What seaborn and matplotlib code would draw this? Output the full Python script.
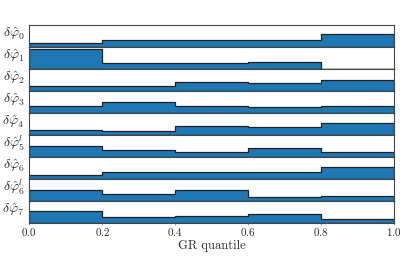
import matplotlib
matplotlib.use('Agg')
import matplotlib.pyplot as plt
import numpy as np
import pandas as pd
import seaborn as sns

# 分位数区间边界
bin_edges = [0.0, 0.2, 0.4, 0.6, 0.8, 1.0]
bin_centers = [0.1, 0.3, 0.5, 0.7, 0.9]

# 每个参数在各 GR 分位区间内的比例
row_labels = [r'$\delta\hat{\varphi}_0$', r'$\delta\hat{\varphi}_1$', r'$\delta\hat{\varphi}_2$',
              r'$\delta\hat{\varphi}_3$', r'$\delta\hat{\varphi}_4$', r'$\delta\hat{\varphi}^l_5$',
              r'$\delta\hat{\varphi}_6$', r'$\delta\hat{\varphi}^l_6$', r'$\delta\hat{\varphi}_7$']
phi0 = [0.10, 0.19, 0.19, 0.19, 0.33]
phi1 = [0.52, 0.15, 0.15, 0.18, 0.0]
phi2 = [0.13, 0.13, 0.24, 0.21, 0.29]
phi3 = [0.19, 0.29, 0.19, 0.15, 0.19]
phi4 = [0.14, 0.10, 0.24, 0.20, 0.32]
phi5l = [0.29, 0.19, 0.14, 0.24, 0.14]
phi6 = [0.10, 0.19, 0.19, 0.19, 0.32]
phi6l = [0.29, 0.18, 0.29, 0.10, 0.14]
phi7 = [0.32, 0.15, 0.19, 0.24, 0.10]
rows = [phi0, phi1, phi2, phi3, phi4, phi5l, phi6, phi6l, phi7]

sns.set_style('ticks')
plt.rcParams['font.family'] = ['cmr10', 'DejaVu Serif']
plt.rcParams['mathtext.fontset'] = 'cm'
plt.rcParams['axes.formatter.use_mathtext'] = True

fig, axes = plt.subplots(len(rows), 1, figsize=(4.15, 2.57), dpi=100)
fig.subplots_adjust(left=0.0706, right=0.950, top=0.903, bottom=0.132, hspace=0)

for i, (ax, label, vals) in enumerate(zip(axes, row_labels, rows)):
    df = pd.DataFrame({'q': bin_centers, 'w': vals})
    sns.histplot(data=df, x='q', weights='w', bins=bin_edges, element='step', fill=True,
                 color='#1f77b4', alpha=1, edgecolor='#222222', linewidth=0.9, ax=ax)
    ax.set_ylabel('')
    ax.set_xlabel('')
    ax.text(-0.012, 0.6, label, transform=ax.transAxes, ha='right', va='center', fontsize=10)
    ax.set_yticks([])
    ax.set_xlim(0, 1)
    ax.set_ylim(0, 0.57)
    for sp in ax.spines.values():
        sp.set_color('#444444')
        sp.set_linewidth(0.8)
    ax.set_xticks([0.0, 0.2, 0.4, 0.6, 0.8, 1.0])
    ax.tick_params(axis='x', length=1.5, width=0.6, color='#888888', labelsize=8, pad=0.8)
    if i < len(rows) - 1:
        ax.tick_params(axis='x', labelbottom=False, length=0)

axes[-1].set_xlabel('GR quantile', fontsize=9, labelpad=1.5)

fig.savefig('out.png', dpi=100)
